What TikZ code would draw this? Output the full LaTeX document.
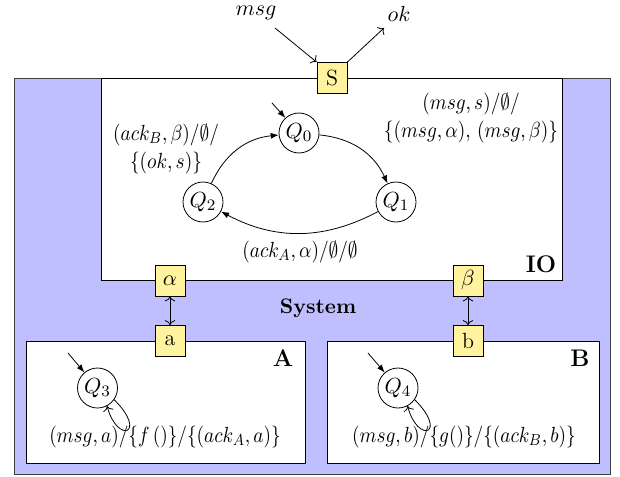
\documentclass[tikz,border=0pt]{standalone}
\usepackage{amssymb}
\usepackage{graphicx}
\usetikzlibrary{arrows.meta}
\definecolor{portyellow}{RGB}{255,243,160}
\definecolor{sysblue}{RGB}{191,191,255}
\newcommand{\narrow}[1]{\scalebox{0.88}[1]{#1}}
\tikzset{
  state/.style={circle,draw,minimum size=20pt,inner sep=0pt},
  port/.style={draw,fill=portyellow,minimum width=15pt,minimum height=15.5pt,inner sep=0pt},
  trans/.style={-{Latex[length=4pt,width=3pt]}},
  lbl/.style={inner sep=0pt,align=center},
  bigtxt/.style={font=\bfseries\fontsize{12}{14}\selectfont}
}
\begin{document}
\begin{tikzpicture}[x=0.5pt,y=-0.5pt,font=\fontsize{11}{13}\selectfont]
\useasboundingbox (0,0) rectangle (620,476);
% containers
\draw[fill=sysblue,draw=black!75] (14,78) rectangle (610,474);
\draw[fill=white] (101,78) rectangle (562,280);
\draw[fill=white] (26,341) rectangle (305,463);
\draw[fill=white] (327,341) rectangle (599,463);
\node[bigtxt] (io) at (541,264) {IO};
\node[font=\bfseries\fontsize{10.5}{12}\selectfont] (sys) at (318,308) {System};
\node[bigtxt] (la) at (283,358) {A};
\node[bigtxt] (lb) at (580,358) {B};
% ports
\node[port] (S) at (332,78) {S};
\node[port] (al) at (170,280.5) {$\alpha$};
\node[port] (be) at (468,280.5) {$\beta$};
\node[port] (pa) at (170,341) {a};
\node[port] (pb) at (468,341) {b};
\draw[<->] (al) -- (pa);
\draw[<->] (be) -- (pb);
% external
\coordinate (msgst) at (275,28);
\coordinate (okend) at (384,28);
\node[lbl] (msgl) at (256,13) {$msg$};
\node[lbl] (okl) at (399,14) {$ok$};
\draw[->] (msgst) -- (S.north west);
\draw[->] (S.north east) -- (okend);
% IO automaton
\node[state] (q0) at (299,133) {$Q_0$};
\node[state] (q1) at (396,202) {$Q_1$};
\node[state] (q2) at (203,202) {$Q_2$};
\coordinate (i0) at (272,103);
\draw[trans] (i0) -- (q0);
\draw[trans] (q0) to[bend left=30] (q1);
\draw[trans] (q1) to[bend left=28] (q2);
\draw[trans] (q2) to[bend left=30] (q0);
\node[lbl] (t01) at (471,118) {\narrow{$(msg,s)/\emptyset/$}\\[1pt]\narrow{$\{(msg,\alpha),\,(msg,\beta)\}$}};
\node[lbl] (t20) at (166,149) {\narrow{$(ack_B,\beta)/\emptyset/$}\\[1pt]\narrow{$\{(ok,s)\}$}};
\node[lbl] (t12) at (300,252) {\narrow{$(ack_A,\alpha)/\emptyset/\emptyset$}};
% A automaton
\node[state] (q3) at (97.5,388) {$Q_3$};
\coordinate (i3) at (68,353);
\draw[trans] (i3) -- (q3);
\draw[->] (q3.-35) .. controls +(-45:24pt) and +(-75:20pt) .. (q3.-62);
\node[lbl] (t33) at (165,437) {\narrow{$(msg,a)/\{f\,()\}/\{(ack_A,a)\}$}};
% B automaton
\node[state] (q4) at (398,388) {$Q_4$};
\coordinate (i4) at (368,353);
\draw[trans] (i4) -- (q4);
\draw[->] (q4.-35) .. controls +(-45:24pt) and +(-75:20pt) .. (q4.-62);
\node[lbl] (t44) at (464,437) {\narrow{$(msg,b)/\{g()\}/\{(ack_B,b)\}$}};
\end{tikzpicture}
\end{document}
